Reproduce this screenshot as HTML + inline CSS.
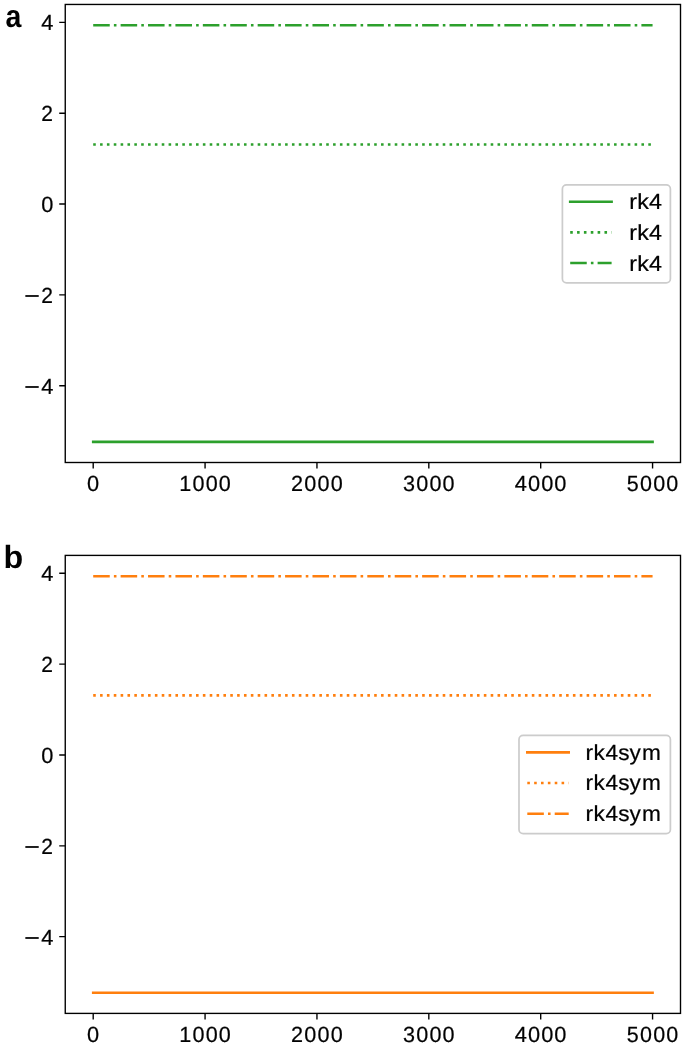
<!DOCTYPE html>
<html><head><meta charset="utf-8"><title>rk4 vs rk4sym</title>
<style>
html,body{margin:0;padding:0;background:#fff;}
body{width:685px;height:1044px;overflow:hidden;}
svg{display:block;}
text{-webkit-font-smoothing:antialiased;}
.t{will-change:transform;}
text{font-family:"Liberation Sans",sans-serif;font-size:21.9px;fill:#000;stroke:#000;stroke-width:0.22px;font-kerning:none;}
.lbl{font-family:"Liberation Sans",sans-serif;font-weight:bold;font-size:31.7px;stroke:none;}
</style></head>
<body>
<svg width="685" height="1044" viewBox="0 0 685 1044" fill="none" text-rendering="geometricPrecision">
<rect width="685" height="1044" fill="#fff"/>
<path d="M93.20 441.90H652.57" stroke="#2ca02c" stroke-width="2.58" stroke-linecap="square"/>
<path d="M93.20 144.42H652.57" stroke="#2ca02c" stroke-width="2.58" stroke-dasharray="2.586 4.267"/>
<path d="M93.20 25.25H652.57" stroke="#2ca02c" stroke-width="2.58" stroke-dasharray="16.548 4.138 2.586 4.138"/>
<rect x="65.25" y="4.45" width="615.25" height="458.05" fill="none" stroke="#000" stroke-width="1.376" stroke-linecap="square"/>
<path d="M93.20 462.50v6.02M205.07 462.50v6.02M316.95 462.50v6.02M428.82 462.50v6.02M540.70 462.50v6.02M652.57 462.50v6.02M65.25 385.73h-6.02M65.25 294.89h-6.02M65.25 204.05h-6.02M65.25 113.21h-6.02M65.25 22.37h-6.02" stroke="#000" stroke-width="1.376"/>
<rect x="562.4" y="184.8" width="108.00" height="98.10" rx="4.14" fill="#fff" fill-opacity="0.8" stroke="#ccc" stroke-width="1.72"/>
<path d="M570.20 201.70h41.4" stroke="#2ca02c" stroke-width="2.58" stroke-linecap="square"/>
<path d="M570.20 232.35h41.4" stroke="#2ca02c" stroke-width="2.58" stroke-dasharray="2.586 4.267"/>
<path d="M570.20 263.00h41.4" stroke="#2ca02c" stroke-width="2.58" stroke-dasharray="16.548 4.138 2.586 4.138"/>
<path d="M93.20 992.83H652.57" stroke="#ff7f0e" stroke-width="2.58" stroke-linecap="square"/>
<path d="M93.20 695.35H652.57" stroke="#ff7f0e" stroke-width="2.58" stroke-dasharray="2.586 4.267"/>
<path d="M93.20 576.18H652.57" stroke="#ff7f0e" stroke-width="2.58" stroke-dasharray="16.548 4.138 2.586 4.138"/>
<rect x="65.25" y="555.4" width="615.25" height="458.00" fill="none" stroke="#000" stroke-width="1.376" stroke-linecap="square"/>
<path d="M93.20 1013.40v6.02M205.07 1013.40v6.02M316.95 1013.40v6.02M428.82 1013.40v6.02M540.70 1013.40v6.02M652.57 1013.40v6.02M65.25 936.66h-6.02M65.25 845.82h-6.02M65.25 754.98h-6.02M65.25 664.14h-6.02M65.25 573.30h-6.02" stroke="#000" stroke-width="1.376"/>
<rect x="519.0" y="735.4" width="151.40" height="98.30" rx="4.14" fill="#fff" fill-opacity="0.8" stroke="#ccc" stroke-width="1.72"/>
<path d="M527.30 752.40h41.4" stroke="#ff7f0e" stroke-width="2.58" stroke-linecap="square"/>
<path d="M527.30 783.05h41.4" stroke="#ff7f0e" stroke-width="2.58" stroke-dasharray="2.586 4.267"/>
<path d="M527.30 813.70h41.4" stroke="#ff7f0e" stroke-width="2.58" stroke-dasharray="16.548 4.138 2.586 4.138"/>
<g class="t" opacity="0.999">
<text transform="translate(0 490.80) scale(0.9964 1)" x="87.44">0</text>
<text transform="translate(0 490.80) scale(0.9860 1)" x="181.74 195.21 208.56 221.92">1000</text>
<text transform="translate(0 490.80) scale(0.9877 1)" x="294.52 308.13 321.47 334.80">2000</text>
<text transform="translate(0 490.80) scale(0.9866 1)" x="408.57 421.89 435.24 448.59">3000</text>
<text transform="translate(0 490.80) scale(0.9964 1)" x="516.72 529.94 543.16 556.38">4000</text>
<text transform="translate(0 490.80) scale(0.9825 1)" x="637.94 651.43 664.83 678.24">5000</text>
<text transform="translate(0 387.29) scale(1.2178 1.1006)" x="19.92" y="7.28">−</text>
<text transform="translate(0 393.78) scale(0.9965 1)" x="41.38">4</text>
<text transform="translate(0 296.45) scale(1.2178 1.1006)" x="19.92" y="7.28">−</text>
<text transform="translate(0 302.94) scale(0.9604 1)" x="42.89">2</text>
<text transform="translate(0 212.10) scale(0.9964 1)" x="41.39">0</text>
<text transform="translate(0 121.26) scale(0.9604 1)" x="42.89">2</text>
<text transform="translate(0 30.42) scale(0.9965 1)" x="41.38">4</text>
<text transform="translate(0 208.85) scale(1.0637 1)" x="591.46 599.03 610.14">rk4</text>
<text transform="translate(0 239.75) scale(1.0637 1)" x="591.46 599.03 610.14">rk4</text>
<text transform="translate(0 270.60) scale(1.0637 1)" x="591.46 599.03 610.14">rk4</text>
<text transform="translate(0 1041.73) scale(0.9964 1)" x="87.44">0</text>
<text transform="translate(0 1041.73) scale(0.9860 1)" x="181.74 195.21 208.56 221.92">1000</text>
<text transform="translate(0 1041.73) scale(0.9877 1)" x="294.52 308.13 321.47 334.80">2000</text>
<text transform="translate(0 1041.73) scale(0.9866 1)" x="408.57 421.89 435.24 448.59">3000</text>
<text transform="translate(0 1041.73) scale(0.9964 1)" x="516.72 529.94 543.16 556.38">4000</text>
<text transform="translate(0 1041.73) scale(0.9825 1)" x="637.94 651.43 664.83 678.24">5000</text>
<text transform="translate(0 938.22) scale(1.2178 1.1006)" x="19.92" y="7.28">−</text>
<text transform="translate(0 944.71) scale(0.9965 1)" x="41.38">4</text>
<text transform="translate(0 847.38) scale(1.2178 1.1006)" x="19.92" y="7.28">−</text>
<text transform="translate(0 853.87) scale(0.9604 1)" x="42.89">2</text>
<text transform="translate(0 763.03) scale(0.9964 1)" x="41.39">0</text>
<text transform="translate(0 672.19) scale(0.9604 1)" x="42.89">2</text>
<text transform="translate(0 581.35) scale(0.9965 1)" x="41.38">4</text>
<text transform="translate(0 760.10) scale(1.0341 1)" x="566.17 574.02 585.44 597.79 608.77 620.86">rk4sym</text>
<text transform="translate(0 790.40) scale(1.0341 1)" x="566.17 574.02 585.44 597.79 608.77 620.86">rk4sym</text>
<text transform="translate(0 820.70) scale(1.0341 1)" x="566.17 574.02 585.44 597.79 608.77 620.86">rk4sym</text>
<text class="lbl" transform="translate(5.55 26.55) scale(0.9 1)">a</text>
<text class="lbl" style="font-size:32.2px" transform="translate(3.6 567.6)">b</text>
</g>
</svg>
</body></html>
